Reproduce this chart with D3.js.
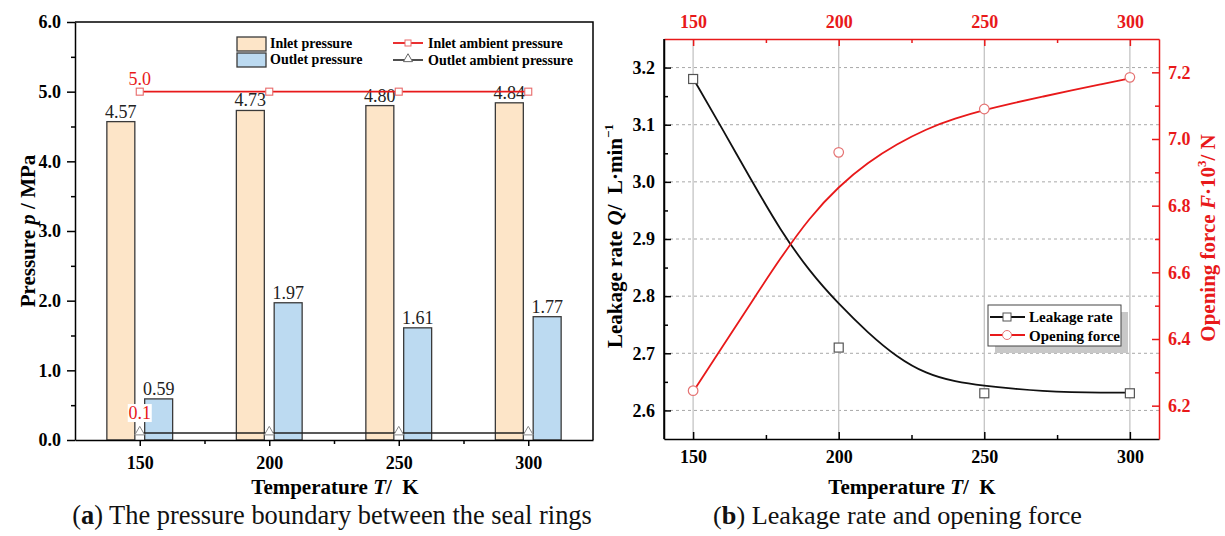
<!DOCTYPE html>
<html>
<head>
<meta charset="utf-8">
<script src="https://cdn.jsdelivr.net/npm/d3@7"></script>
<style>
  body { margin: 0; background: #fff; }
  svg { display: block; }
  text { font-family: "Liberation Serif", "Times New Roman", serif; }
</style>
</head>
<body>
<div id="chart"></div>
<script>
// ---- data (a) ----
const temps = [150, 200, 250, 300];
const inletPressure = [4.57, 4.73, 4.80, 4.84];
const outletPressure = [0.59, 1.97, 1.61, 1.77];
const inletAmbient = [5.0, 5.0, 5.0, 5.0];
const outletAmbient = [0.1, 0.1, 0.1, 0.1];
const pressureTicks = [0, 1, 2, 3, 4, 5, 6];

// ---- data (b) ----
const leakageRate = [3.18, 2.71, 2.63, 2.63];
const openingForce = [6.245, 6.96, 7.09, 7.185];
// fitted curves
const fitTemps = [150, 160, 170, 180, 190, 200, 210, 220, 230, 240, 250, 260, 270, 280, 290, 300];
const leakageFit = [3.181, 3.093, 3.003, 2.915, 2.843, 2.786, 2.736, 2.693, 2.664, 2.650, 2.643, 2.638, 2.634, 2.632, 2.631, 2.631];
const forceFit = [6.242, 6.376, 6.510, 6.643, 6.765, 6.858, 6.930, 6.985, 7.030, 7.062, 7.087, 7.108, 7.127, 7.146, 7.164, 7.182];
const leakageTicks = [2.6, 2.7, 2.8, 2.9, 3.0, 3.1, 3.2];
const forceTicks = [6.2, 6.4, 6.6, 6.8, 7.0, 7.2];

const RED = "#e8191a";
const svg = d3.select("#chart").append("svg").attr("width", 1225).attr("height", 536);

function styleAxis(g, color) {
  g.select(".domain").attr("stroke", color).attr("stroke-width", 1.5);
  g.selectAll(".tick line").attr("stroke", color).attr("stroke-width", 1.5);
  g.selectAll(".tick text").attr("fill", color).attr("font-size", 18).attr("font-weight", "bold")
    .attr("font-family", '"Liberation Serif", serif');
}
function minor(g) {
  g.select(".domain").remove();
  g.selectAll(".tick line").attr("stroke-width", 1.5);
}

// ================= (a) =================
const xA = d3.scaleLinear().domain([125, 325]).range([75, 593]);
const yA = d3.scaleLinear().domain([0, 6]).range([440, 22]);
const rowsA = temps.map((t, i) => ({ t, inlet: inletPressure[i], outlet: outletPressure[i], inAmb: inletAmbient[i], outAmb: outletAmbient[i] }));
const barW = 10.8, barGap = 1.9;
const gA = svg.append("g");

gA.selectAll("rect.inlet").data(rowsA).join("rect")
  .attr("x", d => xA(d.t - barGap - barW)).attr("width", xA(barW) - xA(0))
  .attr("y", d => yA(d.inlet)).attr("height", d => yA(0) - yA(d.inlet))
  .attr("fill", "#fde5c8").attr("stroke", "#3a3a3a").attr("stroke-width", 1.3);
gA.selectAll("rect.outlet").data(rowsA).join("rect")
  .attr("x", d => xA(d.t + barGap)).attr("width", xA(barW) - xA(0))
  .attr("y", d => yA(d.outlet)).attr("height", d => yA(0) - yA(d.outlet))
  .attr("fill", "#bcdaf1").attr("stroke", "#3a3a3a").attr("stroke-width", 1.3);

gA.selectAll("text.vin").data(rowsA).join("text")
  .attr("x", d => xA(d.t - barGap - barW / 2)).attr("y", d => yA(d.inlet) - 4)
  .attr("text-anchor", "middle").attr("font-size", 18).attr("fill", "#222")
  .text(d => d.inlet.toFixed(2));
gA.selectAll("text.vout").data(rowsA).join("text")
  .attr("x", d => xA(d.t + barGap + barW / 2)).attr("y", d => yA(d.outlet) - 4)
  .attr("text-anchor", "middle").attr("font-size", 18).attr("fill", "#222")
  .text(d => d.outlet.toFixed(2));

// axes
gA.append("g").attr("transform", "translate(75,0)")
  .call(d3.axisLeft(yA).tickValues(pressureTicks).tickFormat(d3.format(".1f")).tickSize(8).tickPadding(6).tickSizeOuter(0))
  .call(g => styleAxis(g, "#000"));
gA.append("g").attr("transform", "translate(75,0)")
  .call(d3.axisLeft(yA).tickValues(d3.range(0.5, 6, 1)).tickFormat("").tickSize(4)).call(minor);
gA.append("g").attr("transform", "translate(0,440)")
  .call(d3.axisBottom(xA).tickValues(temps).tickSize(6).tickPadding(10).tickSizeOuter(0))
  .call(g => styleAxis(g, "#000"));
gA.append("g").attr("transform", "translate(0,440)")
  .call(d3.axisBottom(xA).tickValues([175, 225, 275]).tickFormat("").tickSize(4)).call(minor);
gA.append("path")
  .attr("d", `M${xA.range()[0]},${yA(6)}H${xA.range()[1]}V${yA(0)}`)
  .attr("fill", "none").attr("stroke", "#000").attr("stroke-width", 1.5);

// ambient lines
const lineA = key => d3.line().x(d => xA(d.t)).y(d => yA(d[key]));
gA.append("path").datum(rowsA).attr("d", lineA("outAmb"))
  .attr("fill", "none").attr("stroke", "#222").attr("stroke-width", 1.6);
gA.append("path").datum(rowsA).attr("d", lineA("inAmb"))
  .attr("fill", "none").attr("stroke", RED).attr("stroke-width", 1.8);
gA.selectAll("rect.mk").data(rowsA).join("rect")
  .attr("x", d => xA(d.t) - 3.5).attr("y", d => yA(d.inAmb) - 3.5).attr("width", 7).attr("height", 7)
  .attr("fill", "#fff").attr("stroke", "#e86a6a").attr("stroke-width", 1.1);
gA.selectAll("path.tri").data(rowsA).join("path")
  .attr("transform", d => `translate(${xA(d.t)},${yA(d.outAmb) - 1})`)
  .attr("d", d3.symbol(d3.symbolTriangle, 42))
  .attr("fill", "#fff").attr("stroke", "#888").attr("stroke-width", 1);

gA.append("text").attr("x", xA(temps[0])).attr("y", yA(inletAmbient[0]) - 7)
  .attr("text-anchor", "middle").attr("font-size", 18).attr("fill", RED).text(inletAmbient[0].toFixed(1));
gA.append("rect").attr("x", xA(temps[0]) - 12).attr("y", yA(outletAmbient[0]) - 29).attr("width", 24).attr("height", 18).attr("fill", "#fff");
gA.append("text").attr("x", xA(temps[0])).attr("y", yA(outletAmbient[0]) - 14)
  .attr("text-anchor", "middle").attr("font-size", 18).attr("fill", RED).text(outletAmbient[0].toFixed(1));

// legend (a)
const legA = gA.append("g").attr("font-size", 14).attr("font-weight", "bold");
[["Inlet pressure", "#fde5c8", 37], ["Outlet pressure", "#bcdaf1", 53]].forEach(([label, fill, y]) => {
  legA.append("rect").attr("x", 237).attr("y", y).attr("width", 29).attr("height", 14)
    .attr("fill", fill).attr("stroke", "#3a3a3a").attr("stroke-width", 1.3);
  legA.append("text").attr("x", 270).attr("y", y + 11).text(label);
});
legA.append("line").attr("x1", 393).attr("x2", 423).attr("y1", 43).attr("y2", 43).attr("stroke", RED).attr("stroke-width", 1.8);
legA.append("rect").attr("x", 405).attr("y", 40).attr("width", 6).attr("height", 6).attr("fill", "#fff").attr("stroke", "#e86a6a");
legA.append("text").attr("x", 428).attr("y", 48).text("Inlet ambient pressure");
legA.append("line").attr("x1", 393).attr("x2", 423).attr("y1", 60).attr("y2", 60).attr("stroke", "#222").attr("stroke-width", 1.6);
legA.append("path").attr("transform", "translate(408,59)").attr("d", d3.symbol(d3.symbolTriangle, 36))
  .attr("fill", "#fff").attr("stroke", "#666");
legA.append("text").attr("x", 428).attr("y", 65).text("Outlet ambient pressure");

// titles (a)
gA.append("text").attr("transform", "translate(35,231) rotate(-90)").attr("text-anchor", "middle")
  .attr("font-size", 21).attr("font-weight", "bold").style("white-space", "pre")
  .call(t => { t.append("tspan").text("Pressure "); t.append("tspan").attr("font-style", "italic").text("p"); t.append("tspan").text(" / MPa"); });
gA.append("text").attr("x", 335).attr("y", 494).attr("text-anchor", "middle")
  .attr("font-size", 21).attr("font-weight", "bold").style("white-space", "pre")
  .call(t => { t.append("tspan").text("Temperature "); t.append("tspan").attr("font-style", "italic").text("T"); t.append("tspan").text("/  K"); });

// ================= (b) =================
const xB = d3.scaleLinear().domain([140, 310]).range([664, 1159]);
const yQ = d3.scaleLinear().domain([2.55, 3.25]).range([439, 39]);
const yF = d3.scaleLinear().domain([6.1, 7.3]).range([439, 39]);
const gB = svg.append("g");

// grid
gB.selectAll("line.hg").data(leakageTicks).join("line")
  .attr("x1", 664).attr("x2", 1159).attr("y1", d => yQ(d)).attr("y2", d => yQ(d))
  .attr("stroke", "#a8a8a8").attr("stroke-width", 1).attr("stroke-dasharray", "3,3");
gB.selectAll("line.vg").data(temps).join("line")
  .attr("x1", d => xB(d)).attr("x2", d => xB(d)).attr("y1", 39).attr("y2", 439)
  .attr("stroke", "#c4c4c4").attr("stroke-width", 1.3);

// axes
gB.append("g").attr("transform", "translate(0,439)")
  .call(d3.axisBottom(xB).tickValues(temps).tickSize(-7).tickPadding(11).tickSizeOuter(0))
  .call(g => styleAxis(g, "#000"));
gB.append("g").attr("transform", "translate(0,439)")
  .call(d3.axisBottom(xB).tickValues([175, 225, 275]).tickFormat("").tickSize(-4)).call(minor);
gB.append("g").attr("transform", "translate(0,39)")
  .call(d3.axisTop(xB).tickValues(temps).tickSize(-7).tickPadding(11).tickSizeOuter(0))
  .call(g => styleAxis(g, RED));
gB.append("g").attr("transform", "translate(0,39)")
  .call(d3.axisTop(xB).tickValues([175, 225, 275]).tickFormat("").tickSize(-4)).call(minor)
  .call(g => g.selectAll(".tick line").attr("stroke", RED));
gB.append("g").attr("transform", "translate(664,0)")
  .call(d3.axisLeft(yQ).tickValues(leakageTicks).tickFormat(d3.format(".1f")).tickSize(-7).tickPadding(9).tickSizeOuter(0))
  .call(g => styleAxis(g, "#000"));
gB.append("g").attr("transform", "translate(664,0)")
  .call(d3.axisLeft(yQ).tickValues(d3.range(2.65, 3.2, 0.1)).tickFormat("").tickSize(-4)).call(minor);
gB.append("g").attr("transform", "translate(1159,0)")
  .call(d3.axisRight(yF).tickValues(forceTicks).tickFormat(d3.format(".1f")).tickSize(-7).tickPadding(9).tickSizeOuter(0))
  .call(g => styleAxis(g, RED));
gB.append("g").attr("transform", "translate(1159,0)")
  .call(d3.axisRight(yF).tickValues(d3.range(6.3, 7.2, 0.2)).tickFormat("").tickSize(-4)).call(minor)
  .call(g => g.selectAll(".tick line").attr("stroke", RED));

// curves
const fitQ = fitTemps.map((t, i) => [t, leakageFit[i]]);
const fitF = fitTemps.map((t, i) => [t, forceFit[i]]);
gB.append("path").datum(fitQ)
  .attr("d", d3.line().x(d => xB(d[0])).y(d => yQ(d[1])).curve(d3.curveBasis))
  .attr("fill", "none").attr("stroke", "#111").attr("stroke-width", 1.8);
gB.append("path").datum(fitF)
  .attr("d", d3.line().x(d => xB(d[0])).y(d => yF(d[1])).curve(d3.curveBasis))
  .attr("fill", "none").attr("stroke", RED).attr("stroke-width", 1.8);

gB.selectAll("rect.q").data(temps).join("rect")
  .attr("x", (t) => xB(t) - 4.5).attr("y", (t, i) => yQ(leakageRate[i]) - 4.5).attr("width", 9).attr("height", 9)
  .attr("fill", "#fff").attr("stroke", "#555").attr("stroke-width", 1.2);
gB.selectAll("circle.f").data(temps).join("circle")
  .attr("cx", t => xB(t)).attr("cy", (t, i) => yF(openingForce[i])).attr("r", 4.8)
  .attr("fill", "#fff").attr("stroke", "#e57373").attr("stroke-width", 1.2);

// frame ends
gB.append("line").attr("x1", 664).attr("x2", 664).attr("y1", 39).attr("y2", 439).attr("stroke", "#000").attr("stroke-width", 1.5);

// legend (b)
const legB = gB.append("g").attr("font-size", 15).attr("font-weight", "bold");
legB.append("rect").attr("x", 995).attr("y", 312).attr("width", 133).attr("height", 41).attr("fill", "#c8c8c8");
legB.append("rect").attr("x", 988).attr("y", 305).attr("width", 133).attr("height", 41)
  .attr("fill", "#fff").attr("stroke", "#444").attr("stroke-width", 1);
legB.append("line").attr("x1", 990).attr("x2", 1025).attr("y1", 317).attr("y2", 317).attr("stroke", "#111").attr("stroke-width", 1.8);
legB.append("rect").attr("x", 1003).attr("y", 313).attr("width", 8).attr("height", 8).attr("fill", "#fff").attr("stroke", "#555");
legB.append("text").attr("x", 1029).attr("y", 322).text("Leakage rate");
legB.append("line").attr("x1", 990).attr("x2", 1025).attr("y1", 335).attr("y2", 335).attr("stroke", RED).attr("stroke-width", 1.8);
legB.append("circle").attr("cx", 1007).attr("cy", 335).attr("r", 4.5).attr("fill", "#fff").attr("stroke", "#e57373");
legB.append("text").attr("x", 1029).attr("y", 341).text("Opening force");

// titles (b)
gB.append("text").attr("transform", "translate(622,236) rotate(-90)").attr("text-anchor", "middle")
  .attr("font-size", 21).attr("font-weight", "bold").style("white-space", "pre")
  .call(t => {
    t.append("tspan").text("Leakage rate ");
    t.append("tspan").attr("font-style", "italic").text("Q");
    t.append("tspan").text("/  L·min");
    t.append("tspan").attr("font-size", 13).attr("dy", -9).text("−1");
  });
gB.append("text").attr("transform", "translate(1215,238) rotate(-90)").attr("text-anchor", "middle")
  .attr("font-size", 21).attr("font-weight", "bold").attr("fill", RED).style("white-space", "pre")
  .call(t => {
    t.append("tspan").text("Opening force ");
    t.append("tspan").attr("font-style", "italic").text("F");
    t.append("tspan").text("·10");
    t.append("tspan").attr("font-size", 13).attr("dy", -9).text("3");
    t.append("tspan").attr("dy", 9).text("/ N");
  });
gB.append("text").attr("x", 912).attr("y", 494).attr("text-anchor", "middle")
  .attr("font-size", 21).attr("font-weight", "bold").style("white-space", "pre")
  .call(t => { t.append("tspan").text("Temperature "); t.append("tspan").attr("font-style", "italic").text("T"); t.append("tspan").text("/  K"); });

// captions
function caption(x0, x1, letter, rest) {
  const t = svg.append("text").attr("x", (x0 + x1) / 2).attr("y", 524).attr("text-anchor", "middle")
    .attr("font-size", 23).attr("fill", "#111");
  t.append("tspan").text("(");
  t.append("tspan").attr("font-weight", "bold").text(letter);
  t.append("tspan").text(") " + rest);
  const len = t.node().getComputedTextLength();
  t.attr("font-size", 23 * (x1 - x0) / len);
}
caption(72, 592, "a", "The pressure boundary between the seal rings");
caption(713, 1082, "b", "Leakage rate and opening force");
</script>
</body>
</html>
